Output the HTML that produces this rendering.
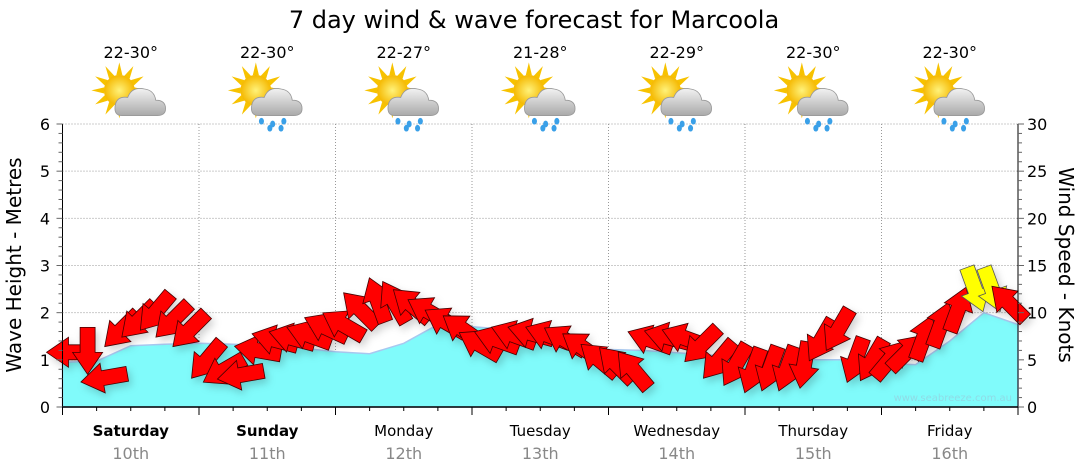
<!DOCTYPE html>
<html><head><meta charset="utf-8"><style>
body{margin:0;background:#fff;width:1080px;height:475px;overflow:hidden}
svg{display:block;font-family:"DejaVu Sans","Liberation Sans",sans-serif}
</style></head><body>
<svg id="chart" width="1080" height="475" viewBox="0 0 1080 475">
<defs>
<filter id="shadow" x="-20%" y="-20%" width="140%" height="140%"><feDropShadow dx="3" dy="4" stdDeviation="4" flood-color="#000" flood-opacity="0.18"/></filter>
<radialGradient id="sunG" cx="50%" cy="50%" r="50%"><stop offset="0" stop-color="#fff27a"/><stop offset="1" stop-color="#f5b800"/></radialGradient>
<linearGradient id="cloudG" x1="0" y1="0" x2="0" y2="1"><stop offset="0" stop-color="#f2f2f2"/><stop offset="1" stop-color="#a9a9a9"/></linearGradient>
</defs>
<text x="534" y="28" text-anchor="middle" font-size="24" fill="#000">7 day wind &amp; wave forecast for Marcoola</text>
<g id="gridG"></g>
<g id="wavesG"></g>
<g id="arrowsG" filter="url(#shadow)"></g>
<text x="1012" y="401" text-anchor="end" font-size="10" fill="#8fdbe6">www.seabreeze.com.au</text>
<g id="axesG"></g>
<g id="topG"></g>
<text transform="translate(21,265) rotate(-90)" text-anchor="middle" font-size="20">Wave Height - Metres</text>
<text transform="translate(1059,265) rotate(90)" text-anchor="middle" font-size="20">Wind Speed - Knots</text>
</svg>
<script>
const days = ["Saturday","Sunday","Monday","Tuesday","Wednesday","Thursday","Friday"];
const dates = ["10th","11th","12th","13th","14th","15th","16th"];
const boldDays = [true,true,false,false,false,false,false];
const temps = ["22-30°","22-30°","22-27°","21-28°","22-29°","22-30°","22-30°"];
const rainy = [false,true,true,true,true,true,true];
const waveTicks = [0,1,2,3,4,5,6];
const windTicks = [0,5,10,15,20,25,30];
const waveHours = [0,6,12,18,24,30,36,42,48,54,60,66,72,78,84,90,96,102,108,114,120,126,132,138,144,150,156,162,168];
const waveHeights = [0.95,0.97,1.3,1.33,1.35,1.33,1.3,1.25,1.17,1.13,1.35,1.75,1.7,1.65,1.35,1.25,1.22,1.2,1.15,1.1,1.05,1.02,1.0,1.0,0.92,0.9,1.4,2.0,1.75];
const windHours = [0,3,6,9,12,15,18,21,24,27,30,33,36,39,42,45,48,51,54,57,60,63,66,69,72,75,78,81,84,87,90,93,96,99,102,105,108,111,114,117,120,123,126,129,132,135,138,141,144,147,150,153,156,159,162,165];
const windSpeeds = [5.8,6.0,3.1,8.2,9.2,10.1,9.2,8.2, 5.0,3.9,3.4,6.0,7.1,7.3,7.6,8.4, 8.7,10.3,11.3,11.1,10.8,10.1,9.0,8.2, 6.6,7.1,7.6,7.8,7.6,7.1,6.3,5.0, 4.5,3.9,7.1,7.4,7.3,6.6,5.0,4.5, 3.9,4.1,4.1,4.5,7.1,8.2,5.0,5.0, 5.0,5.8,7.3,8.7,10.3,12.5,12.5,11.0];
const windFrom = [90,0,80,45,45,40,45,45, 40,60,80,100,105,105,110,115, 120,135,160,150,130,120,120,125, 120,110,110,105,110,120,125,130, 135,140,110,105,110,45,40,30, 20,20,20,10,30,30,20,30, 220,225,200,200,200,340,340,135];

const NS="http://www.w3.org/2000/svg";
const X0=62.5, X1=1018, Y0=407, Y1=124;
const xH = h => X0 + h/168*(X1-X0);
const yM = m => Y0 - m/6*(Y0-Y1);
const yK = k => Y0 - k/30*(Y0-Y1);
function mk(tag, attrs, parent){const e=document.createElementNS(NS,tag);for(const k in attrs)e.setAttribute(k,attrs[k]);parent.appendChild(e);return e;}
const gridEl=document.getElementById('gridG'), axesEl=document.getElementById('axesG'), wavesEl=document.getElementById('wavesG'), arrowsEl=document.getElementById('arrowsG'), topEl=document.getElementById('topG');

waveTicks.forEach(t=>{ if(t>0){const l=mk('line',{x1:X0,x2:X1,y1:yM(t),y2:yM(t),stroke:'#999','stroke-dasharray':'1,2'},gridEl);

}});
for(let d=1;d<7;d++){const l=mk('line',{x1:xH(d*24),x2:xH(d*24),y1:Y1,y2:Y0,stroke:'#999','stroke-dasharray':'1,2'},gridEl);

}

let wd='M'+xH(waveHours[0])+','+Y0;
waveHours.forEach((h,i)=>{wd+=' L'+xH(h).toFixed(1)+','+yM(waveHeights[i]).toFixed(1);});
wd+=' L'+xH(waveHours[waveHours.length-1])+','+Y0+' Z';
const wp=mk('path',{d:wd,fill:'#80fbfb',stroke:'#a8c8f0','stroke-width':1.5},wavesEl);



windHours.forEach((h,i)=>{
  const cx=xH(h)+8, cy=yK(windSpeeds[i]);
  const rot=windFrom[i]+180;
  const yellow=windSpeeds[i]>=12;
  const p=mk('path',{d:'M0,-24 L15,-2 L7.5,-2 L7.5,23 L-7.5,23 L-7.5,-2 L-15,-2 Z',
    transform:`translate(${cx.toFixed(1)},${cy.toFixed(1)}) rotate(${rot})`,
    fill:yellow?'#ffff00':'#ff0000',stroke:yellow?'#555':'#400','stroke-width':0.8},arrowsEl);
  
  
});

mk('line',{x1:X0,x2:X1,y1:Y0,y2:Y0,stroke:'#000','stroke-width':1.5},axesEl);
mk('line',{x1:X0,x2:X0,y1:Y1,y2:Y0,stroke:'#000'},axesEl);
mk('line',{x1:X1,x2:X1,y1:Y1,y2:Y0,stroke:'#000'},axesEl);
for(let m=0;m<=30;m++){const y=yM(m/5);mk('line',{x1:X0-(m%5?4:6),x2:X0,y1:y,y2:y,stroke:'#666'},axesEl);}
waveTicks.forEach(t=>{const e=mk('text',{x:50,y:yM(t)+6,'text-anchor':'end','font-size':16},axesEl);e.textContent=t;

});
for(let k=0;k<=30;k++){const y=yK(k);mk('line',{x1:X1,x2:X1+(k%5?4:6),y1:y,y2:y,stroke:'#666'},axesEl);}
windTicks.forEach(t=>{const e=mk('text',{x:1027,y:yK(t)+6,'font-size':16},axesEl);e.textContent=t;

});
for(let h=0;h<=168;h+=6){mk('line',{x1:xH(h),x2:xH(h),y1:Y0,y2:Y0+(h%24?4:8),stroke:'#000'},axesEl);}
days.forEach((dn,i)=>{
  const cx=xH(i*24+12);
  const t=mk('text',{x:cx,y:436,'text-anchor':'middle','font-size':15,'font-weight':boldDays[i]?'bold':'normal'},axesEl);t.textContent=dn;
  
  
  const t2=mk('text',{x:cx,y:459,'text-anchor':'middle','font-size':16,fill:'#888'},axesEl);t2.textContent=dates[i];
  
  
  const tt=mk('text',{x:cx,y:58,'text-anchor':'middle','font-size':16},topEl);tt.textContent=temps[i];
  
  
  const g=mk('g',{transform:`translate(${cx-3},96) scale(1.4)`},topEl);
  
  
  let rays='';for(let r=0;r<12;r++){const a=r*Math.PI/6;rays+=`M${(Math.cos(a-0.2)*11).toFixed(1)},${(Math.sin(a-0.2)*11).toFixed(1)} L${(Math.cos(a)*20).toFixed(1)},${(Math.sin(a)*20).toFixed(1)} L${(Math.cos(a+0.2)*11).toFixed(1)},${(Math.sin(a+0.2)*11).toFixed(1)} Z `;}
  mk('path',{d:rays,fill:'#f7c200',transform:'translate(-6,-4)'},g);
  mk('circle',{cx:-6,cy:-4,r:11,fill:'url(#sunG)'},g);
  mk('path',{d:'M-4,14 Q-10,14 -9,7 Q-8,0 0,1 Q3,-7 12,-5 Q19,-4 20,3 Q27,3 27,9 Q27,14 21,14 Z',fill:'url(#cloudG)',stroke:'#999','stroke-width':0.6},g);
  if(rainy[i]){[[-2,18],[6,20],[14,18],[4,23],[12,23]].forEach(p=>mk('ellipse',{cx:p[0],cy:p[1],rx:1.8,ry:2.4,fill:'#3aa0e8'},g));}
});
</script>
</body></html>
